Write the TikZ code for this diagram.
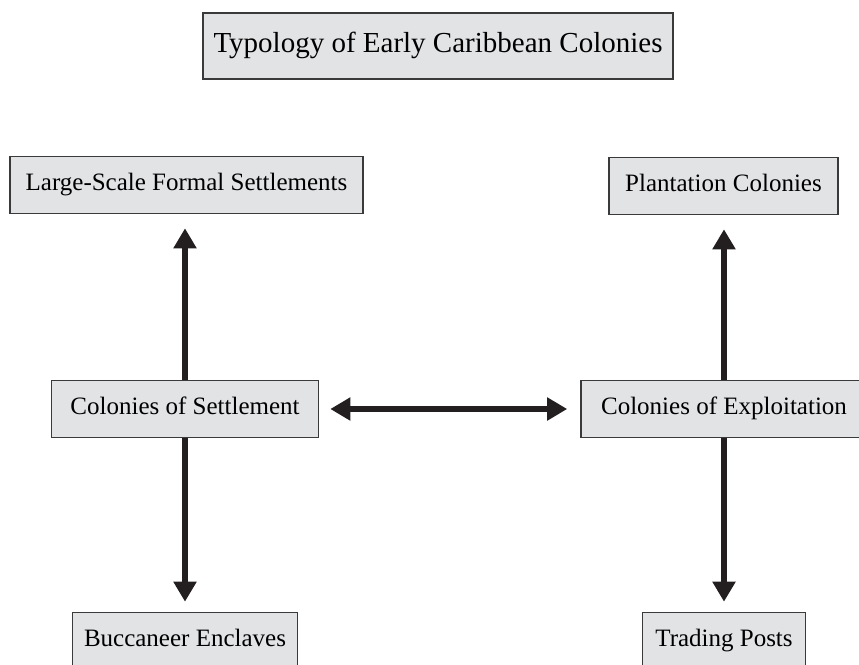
\documentclass[tikz,border=0pt]{standalone}
\usepackage{fontspec}
\setmainfont{Liberation Serif}
\usepackage{xcolor}
\usetikzlibrary{arrows.meta, positioning}

\definecolor{boxfill}{HTML}{E2E3E5}
\definecolor{boxline}{HTML}{3A3A3A}
\definecolor{arrowink}{HTML}{231F20}

\begin{document}
\begin{tikzpicture}[x=1pt,y=-1pt]
\tikzstyle{typebox}=[draw=boxline, fill=boxfill, line width=1.6pt, inner sep=0pt, minimum height=57pt, text height=17pt, text depth=5.5pt, font=\fontsize{25}{30}\selectfont]
\tikzstyle{link}=[draw=arrowink, line width=5.5pt, -{Triangle[length=20pt,width=22pt]}]
\useasboundingbox (0,0) rectangle (859,664);
% title
\node [typebox, minimum width=470pt, minimum height=66pt, text height=20pt, text depth=6.5pt, font=\fontsize{29}{34}\selectfont] (title) at (438,46) {Typology of Early Caribbean Colonies};
% top row
\node [typebox, minimum width=353pt] (formal) at (186.5,185) {Large-Scale Formal Settlements};
\node [typebox, minimum width=229pt] (plant) at (723.5,186) {Plantation Colonies};
% middle row
\node [typebox, minimum width=267pt] (settle) at (185,409) {Colonies of Settlement};
\node [typebox, minimum width=286pt] (exploit) at (724,409) {Colonies of Exploitation};
% bottom row
\node [typebox, minimum width=225pt] (bucc) at (185,641) {Buccaneer Enclaves};
\node [typebox, minimum width=163pt] (trade) at (724,641) {Trading Posts};
% arrows
\draw [link, shorten >=14pt] (settle.north) -- (settle.north |- formal.south);
\draw [link, shorten >=10pt] (settle.south) -- (settle.south |- bucc.north);
\draw [link, shorten >=14pt] (exploit.north) -- (exploit.north |- plant.south);
\draw [link, shorten >=10pt] (exploit.south) -- (exploit.south |- trade.north);
\draw [link, {Triangle[length=20pt,width=22pt]}-{Triangle[length=20pt,width=22pt]}, shorten <=11pt, shorten >=13pt] (settle.east) -- (exploit.west);
\end{tikzpicture}
\end{document}
